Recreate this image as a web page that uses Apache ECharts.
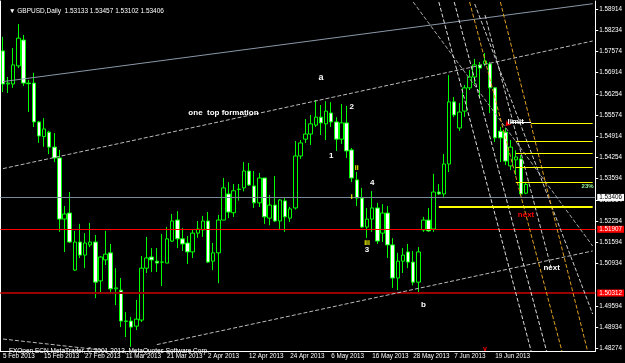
<!DOCTYPE html>
<html>
<head>
<meta charset="utf-8">
<script src="https://cdn.jsdelivr.net/npm/echarts@6/dist/echarts.min.js"></script>
<style>
  html, body { margin: 0; padding: 0; background: #000; }
  #chart { width: 625px; height: 363px; }
</style>
</head>
<body>
<div id="chart"></div>
<script>
// trading days shown on the chart (last ones are the empty shift area)
const tradingDays = {
  Feb: [5, 6, 7, 8, 11, 12, 13, 14, 15, 18, 19, 20, 21, 22, 25, 26, 27, 28],
  Mar: [1, 4, 5, 6, 7, 8, 11, 12, 13, 14, 15, 18, 19, 20, 21, 22, 25, 26, 27, 28, 29],
  Apr: [1, 2, 3, 4, 5, 8, 9, 10, 11, 12, 15, 16, 17, 18, 19, 22, 23, 24, 25, 26, 29, 30],
  May: [1, 2, 3, 6, 7, 8, 9, 10, 13, 14, 15, 16, 17, 20, 21, 22, 23, 24, 27, 28, 29, 30, 31],
  Jun: [3, 4, 5, 6, 7, 10, 11, 12, 13, 14, 17, 18, 19, 20, 21, 24, 25, 26, 27, 28],
  Jul: [1, 2, 3, 4, 5, 8, 9, 10, 11, 12, 15, 16]
};

const opens = [
  1.5760, 1.5656, 1.5656, 1.5713, 1.5794, 1.5659, 1.5659, 1.5537, 1.5491, 1.5505,
  1.5458, 1.5424, 1.5232, 1.5251, 1.5072, 1.5160, 1.5119, 1.5151, 1.5160, 1.5038,
  1.5104, 1.5126, 1.5013, 1.5009, 1.4912, 1.4912, 1.4896, 1.4915, 1.5078, 1.5113,
  1.5100, 1.5097, 1.5094, 1.5163, 1.5229, 1.5170, 1.5157, 1.5129, 1.5188, 1.5198,
  1.5226, 1.5100, 1.5126, 1.5229, 1.5311, 1.5252, 1.5325, 1.5330, 1.5383, 1.5336,
  1.5283, 1.5361, 1.5235, 1.5276, 1.5226, 1.5289, 1.5235, 1.5267, 1.5430, 1.5483,
  1.5499, 1.5527, 1.5552, 1.5531, 1.5565, 1.5537, 1.5483, 1.5534, 1.5449, 1.5355,
  1.5298, 1.5207, 1.5232, 1.5267, 1.5188, 1.5251, 1.5151, 1.5047, 1.5100, 1.5129,
  1.5097, 1.5034, 1.5198, 1.5229, 1.5201, 1.5317, 1.5311, 1.5405, 1.5600, 1.5518,
  1.5571, 1.5644, 1.5678, 1.5716, 1.5719, 1.5719, 1.5644, 1.5508, 1.5505, 1.5399,
  1.5418, 1.5421, 1.53133
];
const closes = [
  1.5656, 1.5659, 1.5716, 1.5800, 1.5659, 1.5657, 1.5537, 1.5493, 1.5515, 1.5458,
  1.5424, 1.5232, 1.5248, 1.5160, 1.5160, 1.5119, 1.5157, 1.5160, 1.5034, 1.5113,
  1.5122, 1.5013, 1.5016, 1.4912, 1.4911, 1.4893, 1.4918, 1.5078, 1.5110, 1.5104,
  1.5094, 1.5097, 1.5170, 1.5226, 1.5170, 1.5154, 1.5129, 1.5188, 1.5201, 1.5226,
  1.5097, 1.5126, 1.5229, 1.5330, 1.5254, 1.5321, 1.5326, 1.5383, 1.5339, 1.5283,
  1.5361, 1.5239, 1.5276, 1.5226, 1.5292, 1.5239, 1.5264, 1.5430, 1.5471, 1.5499,
  1.5531, 1.5552, 1.5534, 1.5571, 1.5537, 1.5483, 1.5534, 1.5446, 1.5361, 1.5298,
  1.5207, 1.5232, 1.5267, 1.5163, 1.5251, 1.5151, 1.5047, 1.5100, 1.5119, 1.5097,
  1.5034, 1.5129, 1.5229, 1.5195, 1.5317, 1.5311, 1.5405, 1.5600, 1.5559, 1.5568,
  1.5644, 1.5678, 1.5716, 1.5706, 1.5728, 1.5644, 1.5487, 1.5487, 1.5414, 1.5458,
  1.5427, 1.5311, 1.53406
];
const lows = [
  1.5631, 1.5628, 1.5644, 1.5706, 1.5650, 1.5568, 1.5521, 1.5471, 1.5459, 1.5436,
  1.5411, 1.5192, 1.5129, 1.5157, 1.5069, 1.5110, 1.5078, 1.5144, 1.4984, 1.4997,
  1.5088, 1.5000, 1.4962, 1.4893, 1.4862, 1.4831, 1.4884, 1.4909, 1.5063, 1.5066,
  1.5066, 1.5022, 1.5094, 1.5160, 1.5141, 1.5132, 1.5091, 1.5110, 1.5173, 1.5176,
  1.5094, 1.5072, 1.5031, 1.5229, 1.5235, 1.5239, 1.5290, 1.5319, 1.5336, 1.5267,
  1.5270, 1.5217, 1.5213, 1.5223, 1.5201, 1.5192, 1.5223, 1.5262, 1.5421, 1.5471,
  1.5465, 1.5521, 1.5496, 1.5480, 1.5521, 1.5446, 1.5468, 1.5424, 1.5348, 1.5273,
  1.5204, 1.5173, 1.5192, 1.5154, 1.5160, 1.5110, 1.5016, 1.5009, 1.5063, 1.5078,
  1.5024, 1.5003, 1.5192, 1.5192, 1.5192, 1.5308, 1.5302, 1.5380, 1.5552, 1.5509,
  1.5553, 1.5637, 1.5656, 1.5615, 1.5712, 1.5565, 1.5474, 1.5411, 1.5402, 1.5386,
  1.5370, 1.5305, 1.53102
];
const highs = [
  1.5804, 1.5678, 1.5769, 1.5844, 1.5810, 1.5669, 1.5691, 1.5540, 1.5549, 1.5509,
  1.5502, 1.5449, 1.5273, 1.5317, 1.5195, 1.5217, 1.5188, 1.5220, 1.5182, 1.5116,
  1.5195, 1.5154, 1.5078, 1.5047, 1.4940, 1.4925, 1.4978, 1.5116, 1.5176, 1.5141,
  1.5141, 1.5185, 1.5207, 1.5248, 1.5257, 1.5204, 1.5179, 1.5201, 1.5226, 1.5242,
  1.5254, 1.5157, 1.5245, 1.5361, 1.5348, 1.5342, 1.5342, 1.5411, 1.5408, 1.5383,
  1.5377, 1.5361, 1.5308, 1.5367, 1.5295, 1.5298, 1.5270, 1.5477, 1.5480, 1.5546,
  1.5559, 1.5606, 1.5590, 1.5602, 1.5599, 1.5552, 1.5593, 1.5587, 1.5455, 1.5380,
  1.5330, 1.5267, 1.5320, 1.5283, 1.5279, 1.5273, 1.5172, 1.5126, 1.5141, 1.5154,
  1.5132, 1.5144, 1.5239, 1.5267, 1.5374, 1.5342, 1.5436, 1.5684, 1.5615, 1.5596,
  1.5653, 1.5700, 1.5735, 1.5725, 1.5753, 1.5725, 1.5647, 1.5521, 1.5518, 1.5480,
  1.5448, 1.5433, 1.53457
];

const priceTicks = [1.58914, 1.58234, 1.57574, 1.56914, 1.56254, 1.55574, 1.54914, 1.54254,
  1.53594, 1.52914, 1.52254, 1.51594, 1.50934, 1.49594, 1.48934, 1.48274];

// horizontal levels: [price, colour, width, tag]
const levels = [
  [1.53233, '#98fb98', 1, null],
  [1.51907, '#ff0000', 1, 'red'],
  [1.50312, '#9b0000', 2, 'red'],
  [1.53406, '#778899', 1, 'bid']
];

// trend lines: [fromIndex, fromPrice, toIndex, toPrice, colour, type]
const trendLines = [
  [0, 1.56636, 115, 1.59081, '#8a98a8', 'solid'],
  [0, 1.53905, 115, 1.57910, '#bbbbbb', 'dashed'],
  [30, 1.48380, 115, 1.51321, '#bbbbbb', 'dashed'],
  [0, 1.48556, 20, 1.48195, '#bbbbbb', 'dashed'],
  [80, 1.59134, 115, 1.51475, '#aaaaaa', 'dashed'],
  [92, 1.59071, 115, 1.49341, '#cccccc', 'dashed'],
  [85, 1.59134, 103, 1.48179, '#dddddd', 'dashed'],
  [88, 1.59134, 106, 1.48179, '#dddddd', 'dashed'],
  [94, 1.58726, 107, 1.50722, '#cccccc', 'dashed'],
  [91, 1.59134, 109, 1.48179, '#e0a020', 'dashed'],
  [97, 1.59134, 114, 1.48179, '#e0a020', 'dashed']
];

// short level segments: [fromIndex, toIndex, price, colour, width]
const segments = [
  [85, 115, 1.52709, '#ffff00', 2],
  [99, 103, 1.5537, '#ffffff', 1],
  [103, 115, 1.55327, '#ffff00', 1],
  [100, 115, 1.54755, '#ffff00', 1],
  [100, 115, 1.54385, '#ffff00', 1],
  [100, 115, 1.53955, '#ffff00', 1],
  [100, 115, 1.53484, '#ffff00', 1]
];

// chart notes: [text, index, price, colour, size]
const notes = [
  ['a', 62, 1.56749, '#ffffff', 9],
  ['one  top formation', 43, 1.5565, '#ffffff', 8],
  ['1', 64, 1.5430, '#ffffff', 8],
  ['2', 68, 1.5585, '#ffffff', 8],
  ['3', 71, 1.5135, '#ffffff', 8],
  ['4', 72, 1.5346, '#ffffff', 8],
  ['b', 82, 1.4962, '#ffffff', 8],
  ['ii', 69, 1.5391, '#ffff00', 7],
  ['iii', 71, 1.5156, '#ffff00', 7],
  ['i', 68, 1.5302, '#ffff00', 7],
  ['limit', 100, 1.5537, '#ffffff', 8],
  ['next', 102, 1.5245, '#ff0000', 8],
  ['next', 107, 1.5079, '#ffffff', 8],
  ['23%', 114, 1.53358, '#98fb98', 6],
  ['v', 94, 1.48242, '#ff0000', 7]
];

const lastBar = 102;
const categories = [];
Object.keys(tradingDays).forEach((m) => {
  tradingDays[m].forEach((d) => categories.push(d + ' ' + m + ' 2013'));
});
const candles = opens.map((o, i) => [o, closes[i], lows[i], highs[i]]);
const font = 'Liberation Sans, Arial, sans-serif';

const markLineData = [];
levels.forEach(([price, color, width, tag]) => {
  const item = { yAxis: price, lineStyle: { color, width, type: 'solid' }, label: { show: false } };
  if (tag) {
    item.label = {
      show: true,
      position: 'end',
      distance: 2,
      formatter: price.toFixed(5),
      fontFamily: font,
      fontSize: 6.3,
      padding: [1, 2, 0, 2],
      color: tag === 'bid' ? '#000' : '#fff',
      backgroundColor: tag === 'bid' ? '#fff' : '#ff0000'
    };
  }
  markLineData.push(item);
});
trendLines.forEach(([i0, p0, i1, p1, color, type]) => {
  markLineData.push([
    { coord: [categories[i0], p0], lineStyle: { color, width: 1, type }, label: { show: false } },
    { coord: [categories[i1], p1] }
  ]);
});
segments.forEach(([i0, i1, price, color, width]) => {
  markLineData.push([
    { coord: [categories[i0], price], lineStyle: { color, width, type: 'solid' }, label: { show: false } },
    { coord: [categories[i1], price] }
  ]);
});

const markPointData = notes.map(([text, idx, price, color, size]) => ({
  coord: [categories[idx], price],
  symbolSize: 0,
  label: {
    show: true,
    position: 'inside',
    formatter: text,
    color,
    fontSize: size,
    fontWeight: 'bold',
    fontFamily: font
  }
}));
// small red arrow next to "limit"
markPointData.push({
  coord: [categories[98], 1.55242],
  symbol: 'arrow',
  symbolSize: 5,
  symbolRotate: 135,
  itemStyle: { color: '#ff0000' },
  label: { show: false }
});

const chart = echarts.init(document.getElementById('chart'));
chart.setOption({
  backgroundColor: '#000',
  animation: false,
  title: [
    {
      text: '\u25BC GBPUSD,Daily  1.53133 1.53457 1.53102 1.53406',
      left: 4, top: 3,
      textStyle: { color: '#fff', fontSize: 6.5, fontWeight: 'normal', fontFamily: font }
    },
    {
      text: 'FXOpen ECN MetaTrader, \u00A9 2001-2013, MetaQuotes Software Corp.',
      left: 4, top: 343,
      textStyle: { color: '#fff', fontSize: 6.5, fontWeight: 'normal', fontFamily: font }
    }
  ],
  grid: { left: 0, right: 27, top: 1, bottom: 11.5 },
  xAxis: {
    type: 'category',
    data: categories,
    boundaryGap: true,
    axisLine: { lineStyle: { color: '#fff', width: 1 } },
    axisTick: { interval: 7, alignWithLabel: true, length: 3, lineStyle: { color: '#fff' } },
    axisLabel: {
      interval: 7,
      color: '#fff',
      fontSize: 6.3,
      fontFamily: font,
      align: 'left',
      margin: 2,
      formatter: (value, idx) => (idx <= lastBar ? value : '')
    },
    splitLine: { show: false }
  },
  yAxis: [
    {
      type: 'value',
      position: 'right',
      min: 1.48164,
      max: 1.59166,
      axisLine: { show: true, lineStyle: { color: '#fff' } },
      axisTick: { show: true, length: 3, customValues: priceTicks, lineStyle: { color: '#fff' } },
      axisLabel: {
        color: '#fff',
        fontSize: 6.3,
        fontFamily: font,
        margin: 4,
        customValues: priceTicks,
        formatter: (v) => v.toFixed(5)
      },
      splitLine: { show: false }
    },
    {
      type: 'value',
      position: 'left',
      min: 1.48164,
      max: 1.59166,
      axisLine: { show: true, lineStyle: { color: '#fff' } },
      axisTick: { show: false },
      axisLabel: { show: false },
      splitLine: { show: false }
    }
  ],
  series: [
    {
      name: 'GBPUSD',
      type: 'candlestick',
      data: candles,
      barWidth: 4,
      itemStyle: {
        color: '#000',
        color0: '#fff',
        borderColor: '#00ff00',
        borderColor0: '#00ff00',
        borderColorDoji: '#00ff00',
        borderWidth: 1
      },
      markLine: {
        symbol: 'none',
        silent: true,
        animation: false,
        data: markLineData
      },
      markPoint: {
        silent: true,
        animation: false,
        data: markPointData
      }
    }
  ]
});
</script>
</body>
</html>
